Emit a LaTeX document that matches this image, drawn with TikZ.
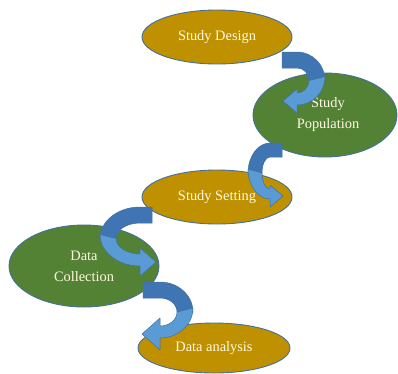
\documentclass[tikz,border=0pt]{standalone}
\usepackage{fontspec}
\setmainfont{Liberation Serif}
\usetikzlibrary{shapes.geometric}
\definecolor{gold}{RGB}{191,144,0}
\definecolor{leaf}{RGB}{84,130,53}
\definecolor{rim}{RGB}{65,113,156}
\definecolor{ribdark}{RGB}{62,117,178}
\definecolor{riblight}{RGB}{91,155,213}
\definecolor{cream}{RGB}{255,250,225}

% Curved ribbon arrow: #1 cx, #2 cy, #3 a, #4 b, #5 band width,
% #6 head half-width, #7 head length, #8 x of the tail end, #9 side (+1 right, -1 left)
\newcommand{\ribbon}[9]{%
  \pgfmathsetmacro\rAo{#9*(#3+#5/2)}%
  \pgfmathsetmacro\rAi{#9*(#3-#5/2)}%
  \pgfmathsetmacro\rBo{#4+#5/2}%
  \pgfmathsetmacro\rBi{#4-#5/2}%
  \filldraw[ribbonback]
    (#8,{#2-\rBo}) -- (#1,{#2-\rBo})
    arc[start angle=-90,end angle=0,x radius=\rAo,y radius=\rBo]
    -- ({#1+\rAi},#2)
    arc[start angle=0,end angle=-90,x radius=\rAi,y radius=\rBi]
    -- (#8,{#2-\rBi}) -- cycle;
  \filldraw[ribbonfront]
    ({#1+\rAo},{#2-4})
    arc[start angle=0,end angle=90,x radius=\rAo,y radius=\rBo]
    -- (#1,{#2+#4+#6}) -- ({#1-#9*#7},{#2+#4}) -- (#1,{#2+#4-#6})
    -- (#1,{#2+\rBi})
    arc[start angle=90,end angle=0,x radius=\rAi,y radius=\rBi]
    -- cycle;
}

\begin{document}
\begin{tikzpicture}[x=1pt,y=-1pt,
  stage/.style={ellipse,draw=rim,line width=0.9pt,inner sep=0pt,
    text=cream,align=center,font=\fontsize{14.4}{21}\selectfont},
  goldstage/.style={stage,fill=gold},
  greenstage/.style={stage,fill=leaf},
  ribbonback/.style={fill=ribdark,draw=rim,line width=0.5pt,line join=round},
  ribbonfront/.style={fill=riblight,draw=rim,line width=0.5pt,line join=round}]
\useasboundingbox (0,0) rectangle (398,373);
\fill[white] (0,0) rectangle (398,373);

\node[goldstage,minimum width=150pt,minimum height=54pt] (design) at (217,37) {Study Design};
\node[greenstage,minimum width=144pt,minimum height=84pt] (population) at (325,115) {\hspace*{6pt}Study\\\hspace*{6pt}Population};
\node[goldstage,minimum width=150pt,minimum height=54pt] (setting) at (217,197) {Study Setting};
\node[greenstage,minimum width=150pt,minimum height=82pt] (collection) at (84,266) {Data\\Collection};
\node[goldstage,minimum width=152pt,minimum height=50pt] (analysis) at (214,348) {Data analysis};

% ribbons leading from one stage to the next
\ribbon{297}{80.5}{20}{20.5}{16}{12}{14}{282}{1}
\ribbon{270}{173}{15}{23}{14}{11}{13}{282}{-1}
\ribbon{140}{238.5}{32}{23.5}{16}{14}{16}{152}{-1}
\ribbon{160}{312}{25}{22}{16}{16}{18}{143}{1}
\end{tikzpicture}
\end{document}
